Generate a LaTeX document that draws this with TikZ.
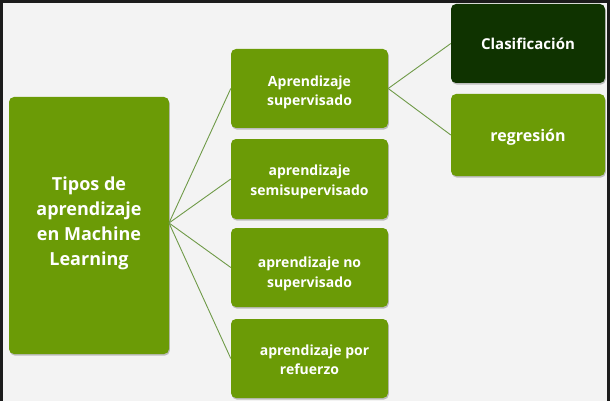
\documentclass[tikz,border=0pt]{standalone}
\usepackage{fontspec}
\setmainfont{Open Sans}
\definecolor{frame}{HTML}{1B1B1B}
\definecolor{bg}{HTML}{F3F3F3}
\definecolor{leaf}{HTML}{6B9B06}
\definecolor{deep}{HTML}{0F3300}
\definecolor{wire}{HTML}{6F9A48}
\newcommand{\stackat}[2]{\raisebox{#1}[0pt][0pt]{\begin{tabular}{@{}c@{}}#2\end{tabular}}}
\begin{document}
\begin{tikzpicture}[x=1pt,y=-1pt,
  card/.style={rounded corners=5pt, fill=leaf, text=white, align=center,
    font=\bfseries\fontsize{14}{19.5}\selectfont, inner sep=0pt,
    minimum width=157pt, minimum height=79pt,
    preaction={fill=black, opacity=0.22, transform canvas={shift={(0.8pt,-1.6pt)}}}},
  wire/.style={draw=wire, line width=0.9pt}]
\useasboundingbox (0,0) rectangle (610,401);
\fill[frame] (0,0) rectangle (610,401);
\fill[bg] (3,3) rectangle (607,401);
\node[card, minimum width=160pt, minimum height=257pt,
  font=\bfseries\fontsize{18}{25}\selectfont] (main) at (89,225.5)
  {\stackat{-2pt}{Tipos de\\aprendizaje\\en Machine\\Learning}};
\node[card] (sup) at (309.5,88.5) {\stackat{-7pt}{Aprendizaje\\supervisado}};
\node[card, minimum height=80pt] (semi) at (309.5,179) {\stackat{-6pt}{aprendizaje\\semisupervisado}};
\node[card] (nosup) at (309.5,267.5) {\stackat{-9.5pt}{aprendizaje no\\supervisado}};
\node[card] (ref) at (309.5,358.5) {\stackat{-6pt}{\hspace*{10pt}aprendizaje por\\refuerzo}};
\node[card, fill=deep, minimum width=154pt, font=\bfseries\fontsize{15}{20}\selectfont] (clas) at (528,43.5) {Clasificación};
\node[card, minimum width=154pt, minimum height=82pt, font=\bfseries\fontsize{16}{20}\selectfont] (reg) at (528,135) {\raisebox{-6pt}[0pt][0pt]{regresión}};
\coordinate (hub) at (169,223);
\draw[wire] (hub) -- (sup.west);
\draw[wire] (hub) -- (semi.west);
\draw[wire] (hub) -- (nosup.west);
\draw[wire] (hub) -- (ref.west);
\draw[wire] (sup.east) -- (clas.west);
\draw[wire] (sup.east) -- (reg.west);
\end{tikzpicture}
\end{document}
